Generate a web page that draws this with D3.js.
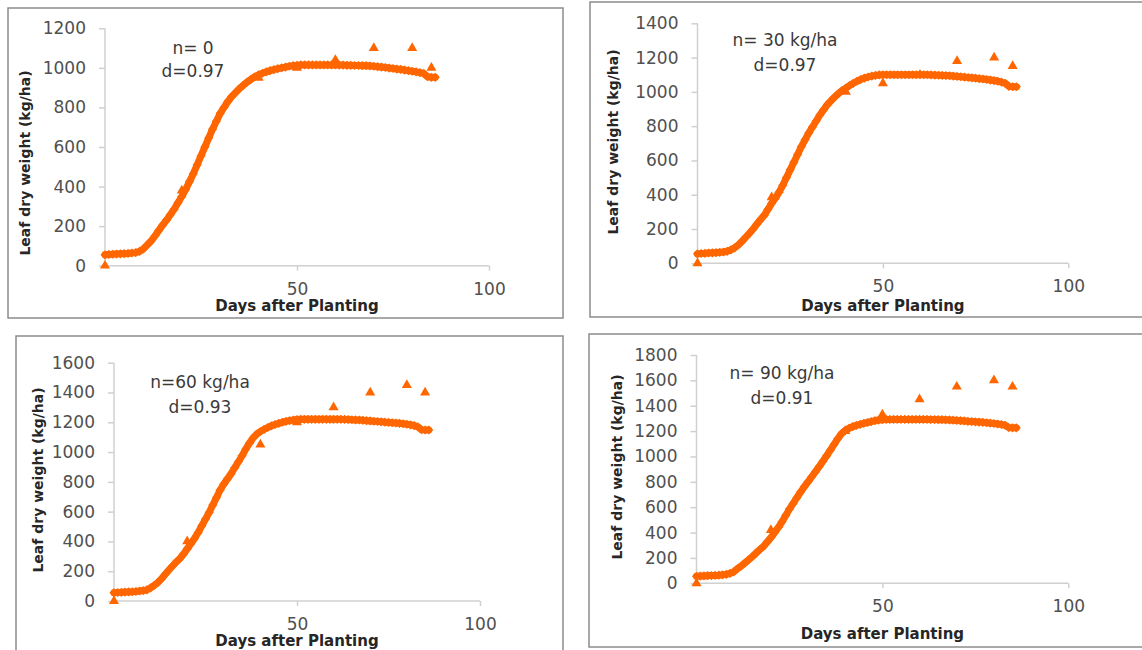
<!DOCTYPE html>
<html>
<head>
<meta charset="utf-8">
<script src="https://cdn.jsdelivr.net/npm/d3@7"></script>
<style>
  body { margin: 0; background: #fff; }
  svg { display: block; }
  text { font-family: "DejaVu Sans", sans-serif; }
</style>
</head>
<body>
<svg id="chart" width="1142" height="650"></svg>
<script>
// simulated leaf dry weight, one value per day after planting (0..86)
const simDays = d3.range(0, 87);

const simN0 = [55, 57, 58, 59, 60, 61, 62, 64, 66, 72,
  85, 105, 125, 150, 178, 205, 230, 258, 285, 318,
  350, 385, 425, 465, 510, 555, 600, 645, 690, 730,
  770, 800, 830, 855, 875, 895, 912, 928, 942, 955,
  965, 973, 980, 986, 991, 996, 1000, 1004, 1008, 1011,
  1013, 1015, 1015, 1015, 1015, 1015, 1015, 1015, 1015, 1015,
  1015, 1014, 1014, 1013, 1013, 1012, 1012, 1011, 1011, 1010,
  1008, 1006, 1004, 1002, 999, 997, 994, 992, 989, 986,
  983, 980, 976, 972, 955, 952, 952];

const simN30 = [55, 57, 58, 60, 61, 62, 64, 66, 70, 78,
  90, 107, 128, 152, 175, 200, 228, 255, 280, 315,
  350, 380, 415, 455, 500, 545, 590, 635, 680, 720,
  760, 795, 830, 865, 895, 925, 948, 970, 990, 1008,
  1022, 1037, 1050, 1062, 1072, 1080, 1087, 1092, 1096, 1099,
  1100, 1100, 1100, 1100, 1100, 1100, 1100, 1100, 1100, 1100,
  1100, 1100, 1100, 1099, 1098, 1097, 1096, 1095, 1094, 1092,
  1090, 1088, 1086, 1084, 1082, 1080, 1077, 1075, 1072, 1069,
  1066, 1062, 1057, 1050, 1032, 1030, 1030];

const simN60 = [55, 57, 58, 60, 61, 62, 64, 67, 70, 75,
  88, 105, 125, 150, 180, 208, 235, 262, 285, 315,
  350, 385, 420, 460, 505, 550, 595, 645, 695, 745,
  785, 820, 855, 895, 935, 975, 1020, 1060, 1095, 1120,
  1138, 1152, 1165, 1176, 1185, 1193, 1200, 1206, 1211, 1215,
  1218, 1220, 1220, 1220, 1220, 1220, 1220, 1220, 1220, 1220,
  1220, 1220, 1220, 1219, 1218, 1217, 1216, 1215, 1213, 1211,
  1209, 1207, 1205, 1203, 1201, 1199, 1197, 1195, 1193, 1190,
  1187, 1183, 1178, 1170, 1150, 1148, 1148];

const simN90 = [55, 57, 58, 60, 61, 62, 64, 67, 70, 78,
  90, 115, 135, 160, 185, 210, 238, 265, 290, 325,
  360, 400, 440, 485, 535, 585, 630, 675, 720, 762,
  800, 840, 880, 920, 962, 1005, 1050, 1095, 1140, 1180,
  1205, 1222, 1235, 1245, 1253, 1261, 1268, 1275, 1282, 1287,
  1290, 1292, 1292, 1292, 1292, 1292, 1292, 1292, 1292, 1292,
  1292, 1292, 1292, 1291, 1291, 1290, 1290, 1289, 1288, 1286,
  1284, 1282, 1280, 1277, 1275, 1273, 1271, 1269, 1266, 1263,
  1260, 1256, 1252, 1246, 1228, 1226, 1226];

// observed values
const obsDays = [0, 20, 40, 50, 60, 70, 80, 85];
const obsN0  = [0, 380, 950, 1000, 1040, 1100, 1100, 1000];
const obsN30 = [0, 385, 1000, 1050, 1100, 1180, 1200, 1150];
const obsN60 = [0, 400, 1050, 1200, 1300, 1400, 1450, 1400];
const obsN90 = [0, 420, 1200, 1330, 1450, 1550, 1600, 1550];

const xTicks = [50, 100];
const yMaxes = [1200, 1400, 1600, 1800];
const nLabels = ['n= 0', 'n= 30 kg/ha', 'n=60 kg/ha', 'n= 90 kg/ha'];
const dLabels = ['d=0.97', 'd=0.97', 'd=0.93', 'd=0.91'];

const orange = '#ff6600';

// layout of each chart box (pixels)
const layout = [
  { frame: [8, 8, 555, 310], x: [105, 489], y: [265.7, 28.3], note: [193, 48, 71], yTitle: [25, 163], xTitleY: 306, xLabY: 289 },
  { frame: [590, 2, 560, 315], x: [697.5, 1068.3], y: [263.3, 23.3], note: [785, 40, 65], yTitle: [613, 142], xTitleY: 306, xLabY: 286 },
  { frame: [16, 336, 547, 330], x: [114, 480], y: [601, 362.7], note: [200, 382, 407], yTitle: [38, 480], xTitleY: 641, xLabY: 624 },
  { frame: [589, 334, 560, 313], x: [696.5, 1068.3], y: [583.3, 355], note: [782, 373, 398], yTitle: [617, 467], xTitleY: 634, xLabY: 606 }
];

const sims = [simN0, simN30, simN60, simN90];
const obs = [obsN0, obsN30, obsN60, obsN90];

const svg = d3.select('#chart');

layout.forEach((L, i) => {
  const g = svg.append('g');

  g.append('rect')
    .attr('x', L.frame[0]).attr('y', L.frame[1])
    .attr('width', L.frame[2]).attr('height', L.frame[3])
    .attr('fill', 'none')
    .attr('stroke', '#8c8c8c')
    .attr('stroke-width', 1.5);

  const x = d3.scaleLinear().domain([0, 100]).range(L.x);
  const y = d3.scaleLinear().domain([0, yMaxes[i]]).range(L.y);

  const yAxis = g.append('g')
    .attr('transform', `translate(${L.x[0]},0)`)
    .call(d3.axisLeft(y).tickValues(d3.range(0, yMaxes[i] + 1, 200))
      .tickFormat(d3.format('d')).tickSize(6).tickPadding(13));
  const xAxis = g.append('g')
    .attr('transform', `translate(0,${L.y[0]})`)
    .call(d3.axisBottom(x).tickValues(xTicks).tickSize(5).tickPadding(12));

  [yAxis, xAxis].forEach(a => {
    a.select('.domain').attr('stroke', '#d0d0d0').attr('stroke-width', 1.5);
    a.selectAll('.tick line').attr('stroke', '#d0d0d0').attr('stroke-width', 1.5);
    a.selectAll('.tick text')
      .attr('fill', '#505050')
      .style('font-size', '17px')
      .style('font-family', '"DejaVu Sans", sans-serif');
  });
  // outer ticks only
  yAxis.select('.domain').attr('d', `M0,${L.y[0]}V${L.y[1]}`);
  xAxis.select('.domain').attr('d', `M${L.x[0]},0H${L.x[1]}`);
  xAxis.selectAll('.tick text').attr('y', null).attr('dy', null)
    .attr('transform', `translate(0,${L.xLabY - L.y[0] + 6})`);

  // simulated series: dense markers along a thick band
  const pts = simDays.map((d, k) => [x(d), y(sims[i][k])]);
  g.append('path')
    .attr('d', d3.line()(pts))
    .attr('fill', 'none')
    .attr('stroke', orange)
    .attr('stroke-width', 7)
    .attr('stroke-linejoin', 'round')
    .attr('stroke-linecap', 'round');

  const diamond = d3.symbol().type(d3.symbolSquare).size(42);
  g.append('g').selectAll('path')
    .data(pts)
    .join('path')
    .attr('d', diamond)
    .attr('transform', p => `translate(${p[0]},${p[1]}) rotate(45)`)
    .attr('fill', orange);

  // observed triangles
  const tri = d3.symbol().type(d3.symbolTriangle).size(44);
  g.append('g').selectAll('path')
    .data(obsDays)
    .join('path')
    .attr('d', tri)
    .attr('transform', (d, k) => `translate(${x(d)},${y(obs[i][k])})`)
    .attr('fill', orange);

  // annotation
  g.append('text')
    .attr('x', L.note[0]).attr('y', L.note[1] + 6)
    .attr('text-anchor', 'middle')
    .attr('fill', '#3a3a3a')
    .style('font-size', '17px')
    .text(nLabels[i]);
  g.append('text')
    .attr('x', L.note[0]).attr('y', L.note[2] + 6)
    .attr('text-anchor', 'middle')
    .attr('fill', '#3a3a3a')
    .style('font-size', '17px')
    .text(dLabels[i]);

  // axis titles
  g.append('text')
    .attr('x', (L.x[0] + L.x[1]) / 2)
    .attr('y', L.xTitleY + 5)
    .attr('text-anchor', 'middle')
    .attr('fill', '#262626')
    .style('font-size', '15px')
    .style('font-weight', 'bold')
    .text('Days after Planting');
  g.append('text')
    .attr('transform', `translate(${L.yTitle[0] + 5},${L.yTitle[1]}) rotate(-90)`)
    .attr('text-anchor', 'middle')
    .attr('fill', '#262626')
    .style('font-size', '14px')
    .style('font-weight', 'bold')
    .text('Leaf dry weight (kg/ha)');
});
</script>
</body>
</html>
